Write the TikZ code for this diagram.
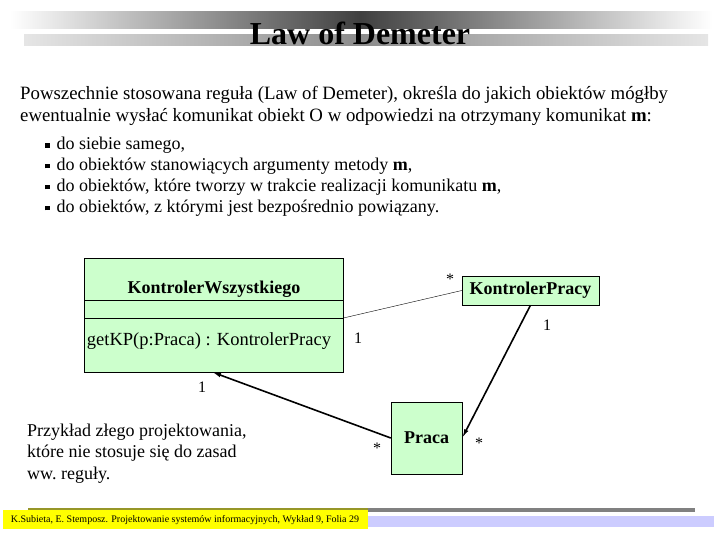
\documentclass[tikz,border=0pt]{standalone}
\usepackage{fontspec}
\setmainfont{Liberation Serif}
\usetikzlibrary{arrows.meta}
\definecolor{umlgreen}{RGB}{204,255,204}
\definecolor{footyellow}{RGB}{255,255,0}
\definecolor{footlav}{RGB}{204,204,255}
\definecolor{footolive}{RGB}{150,150,40}
\newcommand{\sqbullet}{\rule[2.5pt]{4.5pt}{4.5pt}\hspace{7pt}}

\begin{document}
\begin{tikzpicture}[x=1pt,y=-1pt,
  cls/.style={draw,fill=umlgreen,inner sep=0pt,font=\fontsize{18}{20}\selectfont\bfseries},
  txt/.style={anchor=base west,align=left,inner sep=0pt,font=\fontsize{18}{22}\selectfont},
  mult/.style={inner sep=0pt,font=\fontsize{16}{16}\selectfont},
  assoc/.style={line width=1.6pt,-{Latex[length=9pt,width=4.5pt]}}]
  \useasboundingbox (0,0) rectangle (720,540);
  % title bars
  \shade[left color=white,right color=black!75] (10,12) rectangle (360,29);
  \shade[left color=black!75,right color=white] (360,12) rectangle (712,29);
  \shade[left color=black!10,right color=black!45] (24,35) rectangle (360,46);
  \shade[left color=black!45,right color=black!10] (360,35) rectangle (708,46);
  \node[anchor=base,inner sep=0pt,font=\fontsize{32}{32}\selectfont\bfseries] (title) at (360,45) {Law of Demeter};
  % text (base = last line)
  \node[txt,font=\fontsize{18.8}{22}\selectfont] (intro) at (20,122) {Powszechnie stosowana  reguła (Law  of Demeter), określa do jakich obiektów  mógłby\\
    ewentualnie wysłać komunikat  obiekt O w odpowiedzi  na otrzymany komunikat \textbf{m}:};
  \node[txt,font=\fontsize{18}{21}\selectfont] (rules) at (45,213) {\sqbullet do siebie samego,\\
    \sqbullet do obiektów stanowiących argumenty  metody \textbf{m},\\
    \sqbullet do obiektów, które tworzy w trakcie realizacji komunikatu \textbf{m},\\
    \sqbullet do obiektów, z którymi jest bezpośrednio powiązany.};
  % classes
  \node[cls,minimum width=259pt,minimum height=114pt,anchor=north west] (kw) at (84,258) {};
  \draw (kw.west |- 0,300) -- (kw.east |- 0,300);
  \draw (kw.west |- 0,318) -- (kw.east |- 0,318);
  \node[inner sep=0pt,font=\fontsize{18}{20}\selectfont\bfseries] (kwname) at (214,289) {KontrolerWszystkiego};
  \node[inner sep=0pt,font=\fontsize{18.5}{20}\selectfont] (kwop) at (209,341) {getKP(p:Praca) : KontrolerPracy};
  \node[cls,minimum width=137pt,minimum height=29pt] (kp) at (530.5,290.5) {KontrolerPracy};
  \node[cls,minimum width=71pt,minimum height=72pt] (praca) at (426.5,438) {Praca};
  \coordinate (kwe) at (kw.east |- 0,318);
  \coordinate (kwb) at (212,372);
  % associations
  \draw (kwe) -- (kp.west);
  \draw[assoc] (kp.south) -- (praca.east);
  \draw[assoc] (praca.west) -- (kwb);
  \node[mult] (m1) at (450,279) {*};
  \node[mult] (m2) at (547,325) {1};
  \node[mult] (m3) at (358,338) {1};
  \node[mult] (m4) at (202,387) {1};
  \node[mult] (m5) at (377,448) {*};
  \node[mult] (m6) at (479,443) {*};
  \node[txt,font=\fontsize{18}{21.5}\selectfont] (note) at (27,479) {Przykład złego projektowania,\\
    które nie stosuje się do zasad\\
    ww.\ reguły.};
  % footer
  \fill[gray] (28,508) rectangle (695,512);
  \fill[footlav] (368,516) rectangle (714,527);
  \fill[footyellow] (3,510) rectangle (368,529);
  \fill[footolive] (28,508) rectangle (368,510);
  \node[inner sep=0pt,font=\fontsize{10}{10}\selectfont] (foot) at (185,520) {K.Subieta, E. Stemposz. Projektowanie systemów informacyjnych, Wykład 9, Folia 29};
\end{tikzpicture}
\end{document}
